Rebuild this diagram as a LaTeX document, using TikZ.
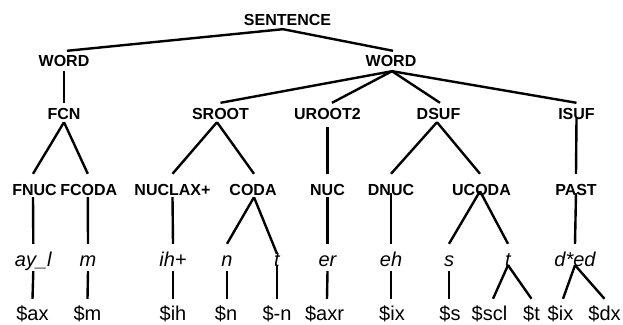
\documentclass[tikz,border=0pt]{standalone}
\usepackage{fontspec}
\setmainfont{Liberation Sans}
\begin{document}
\begin{tikzpicture}[x=1pt,y=-1pt,
  lab/.style={inner sep=0pt, anchor=base},
  bold/.style={lab, font=\bfseries\fontsize{16}{16}\selectfont},
  r0/.style={bold, text height=13pt, text depth=3.5pt},
  r1/.style={bold, text height=15.5pt, text depth=4.5pt},
  r2/.style={bold, text height=16pt, text depth=3pt},
  r3/.style={bold, text height=21pt, text depth=2pt},
  r4/.style={lab, font=\itshape\fontsize{20}{20}\selectfont, text height=22pt, text depth=5pt},
  r5/.style={lab, font=\fontsize{20}{20}\selectfont, text height=21pt, text depth=2pt},
  edge/.style={line width=2.4pt}]
\useasboundingbox (0,0) rectangle (623,324);
% row 0
\node[r0] (sent) at (287.5,25.5) {SENTENCE};
% row 1
\node[r1] (w1) at (64,66.5) {WORD};
\node[r1] (w2) at (391,66.5) {WORD};
% row 2
\node[r2] (fcn) at (64,119) {FCN};
\node[r2] (sroot) at (220.5,119) {SROOT};
\node[r2] (uroot) at (327.5,119) {UROOT2};
\node[r2] (dsuf) at (438.5,119) {DSUF};
\node[r2] (isuf) at (576.5,119) {ISUF};
% row 3
\node[r3] (fnuc) at (34.5,195) {FNUC};
\node[r3] (fcoda) at (88.8,195) {FCODA};
\node[r3] (nuclax) at (172.5,195) {NUCLAX+};
\node[r3] (coda) at (253,195) {CODA};
\node[r3] (nuc) at (327.5,195) {NUC};
\node[r3] (dnuc) at (391,195) {DNUC};
\node[r3] (ucoda) at (481.5,195) {UCODA};
\node[r3] (past) at (576,195) {PAST};
% row 4
\node[r4] (ayl) at (33.3,266) {ay\_l};
\node[r4] (m) at (88,266) {m};
\node[r4] (ih) at (173,266) {ih+};
\node[r4] (n) at (227,266) {n};
\node[r4] (t1) at (277,266) {t};
\node[r4] (er) at (327.5,266) {er};
\node[r4] (eh) at (391,266) {eh};
\node[r4] (s2) at (449,266) {s};
\node[r4] (t2) at (508,266) {t};
\node[r4] (ded) at (575,266) {d*ed};
% row 5
\node[r5] (dax) at (32.5,320) {\$ax};
\node[r5] (dm) at (87.5,320) {\$m};
\node[r5] (dih) at (173,320) {\$ih};
\node[r5] (dn) at (226,320) {\$n};
\node[r5] (dmn) at (277,320) {\$-n};
\node[r5] (daxr) at (324.5,320) {\$axr};
\node[r5] (dix) at (392,320) {\$ix};
\node[r5] (ds) at (450,320) {\$s};
\node[r5] (dscl) at (489.5,320) {\$scl};
\node[r5] (dt) at (531.5,320) {\$t};
\node[r5] (dix2) at (560.5,320) {\$ix};
\node[r5] (ddx) at (604.5,320) {\$dx};
% connectors
\draw[edge] ([xshift=-4.5pt]sent.south) -- ([xshift=3pt]w1.north);
\draw[edge] ([xshift=-4.5pt]sent.south) -- ([xshift=2pt]w2.north);
\draw[edge] (w1.south) -- (fcn.north);
\draw[edge] ([xshift=1pt]w2.south) -- (sroot.north);
\draw[edge] ([xshift=1pt]w2.south) -- ([xshift=4.5pt]uroot.north);
\draw[edge] ([xshift=1pt]w2.south) -- ([xshift=1.5pt]dsuf.north);
\draw[edge] ([xshift=1pt]w2.south) -- (isuf.north);
\draw[edge] (fcn.south) -- ([xshift=-1.5pt]fnuc.north);
\draw[edge] (fcn.south) -- ([xshift=-1pt]fcoda.north);
\draw[edge] ([xshift=-3.5pt]sroot.south) -- (nuclax.north);
\draw[edge] ([xshift=-3.5pt]sroot.south) -- ([xshift=1pt]coda.north);
\draw[edge] ([yshift=-5pt]uroot.south) -- (nuc.north);
\draw[edge] ([xshift=-1.5pt]dsuf.south) -- (dnuc.north);
\draw[edge] ([xshift=-1.5pt]dsuf.south) -- ([xshift=-1.5pt]ucoda.north);
\draw[edge] ([yshift=4pt]isuf.south) -- (past.north);
\draw[edge] ([xshift=-1.5pt]fnuc.south) -- (ayl.north);
\draw[edge] ([xshift=-1pt]fcoda.south) -- (m.north);
\draw[edge] (nuclax.south) -- (ih.north);
\draw[edge] ([xshift=1pt]coda.south) -- (n.north);
\draw[edge] ([xshift=1pt]coda.south) -- ([yshift=-10pt]t1.north);
\draw[edge] (nuc.south) -- (er.north);
\draw[edge] ([yshift=4pt]dnuc.south) -- (eh.north);
\draw[edge] ([xshift=-1.5pt,yshift=6pt]ucoda.south) -- (s2.north);
\draw[edge] ([xshift=-1.5pt,yshift=6pt]ucoda.south) -- (t2.north);
\draw[edge] ([yshift=4pt]past.south) -- (ded.north);
\draw[edge] (ayl.south) -- (dax.north);
\draw[edge] (m.south) -- (dm.north);
\draw[edge] (ih.south) -- (dih.north);
\draw[edge] (n.south) -- ([xshift=1pt]dn.north);
\draw[edge] ([yshift=6pt]t1.south) -- (dmn.north);
\draw[edge] (er.south) -- ([xshift=2.5pt]daxr.north);
\draw[edge] (eh.south) -- ([xshift=-1pt]dix.north);
\draw[edge] (s2.south) -- ([xshift=-1pt]ds.north);
\draw[edge] ([yshift=6pt]t2.south) -- ([xshift=3.5pt]dscl.north);
\draw[edge] ([yshift=6pt]t2.south) -- (dt.north);
\draw[edge] ([yshift=6pt]ded.south) -- ([xshift=2.5pt]dix2.north);
\draw[edge] ([yshift=6pt]ded.south) -- (ddx.north);
\end{tikzpicture}
\end{document}
